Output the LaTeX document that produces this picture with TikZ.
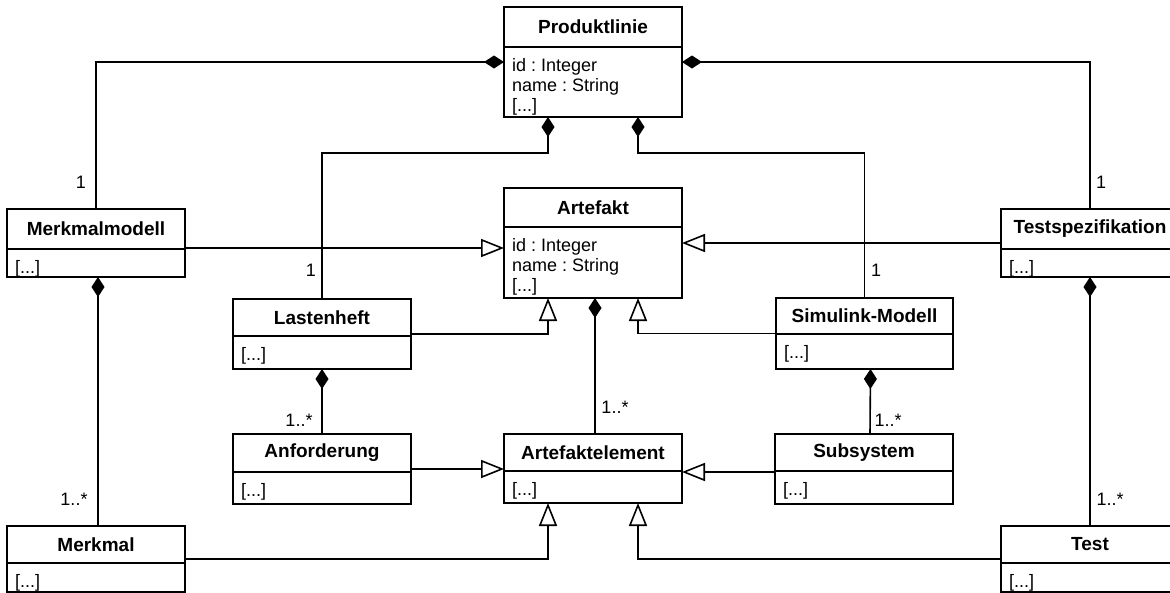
\documentclass[tikz,border=0pt]{standalone}
\usepackage{fontspec}
\setmainfont{Liberation Sans}
\frenchspacing
\usetikzlibrary{arrows.meta,calc}
\tikzset{
  ln/.style={line width=1.6pt, draw=black},
  cls/.style={draw=black, line width=1.6pt, fill=white, rectangle, inner sep=0pt, outer sep=0pt},
  ttl/.style={inner sep=0pt, font=\bfseries\fontsize{19}{21}\selectfont},
  att/.style={inner sep=0pt, anchor=north west, align=left, font=\fontsize{18}{20}\selectfont},
  lbl/.style={inner sep=0pt, font=\fontsize{18}{20}\selectfont},
  comp/.style={ln, -{Diamond[length=20pt,width=13pt]}},
  gen/.style={ln, -{Triangle[open,length=23pt,width=18pt,fill=white]}},
}
\newcommand{\umlclass}[8]{%
  \node[cls, minimum width={#4-#2}, minimum height={#5-#3}] (#1) at ({(#2+#4)/2},{(#3+#5)/2}) {};
  \draw[ln] (#1.west |- 0,#6) -- (#1.east |- 0,#6);
  \node[ttl] (#1-t) at ({(#2+#4)/2},{(#3+#6)/2}) {#7};
  \node[att] (#1-a) at ({#2+8},{#6+11}) {#8};
}
\begin{document}
\begin{tikzpicture}[x=1pt,y=-1pt]
\fill[white] (0,0) rectangle (1170,592);
\useasboundingbox (0,0) rectangle (1170,592);

\umlclass{prod}{504}{7}{682}{117}{47}{Produktlinie}{id : Integer\\name : String\\{}[...]}
\umlclass{art}{504}{188}{682}{298}{227}{Artefakt}{id : Integer\\name : String\\{}[...]}
\umlclass{mm}{7}{209}{185}{277}{249}{Merkmalmodell}{[...]}
\umlclass{ts}{1001}{209}{1179}{277}{249}{Testspezifikation}{[...]}
\umlclass{last}{233}{299}{411}{369}{336}{Lastenheft}{[...]}
\umlclass{sim}{776}{298}{953}{369}{334}{Simulink-Modell}{[...]}
\umlclass{anf}{233}{434}{411}{504}{472}{Anforderung}{[...]}
\umlclass{ae}{504}{434}{682}{503}{471}{Artefaktelement}{[...]}
\umlclass{sub}{775}{434}{953}{504}{471}{Subsystem}{[...]}
\umlclass{mk}{7}{526}{185}{592}{563}{Merkmal}{[...]}
\umlclass{test}{1001}{526}{1179}{592}{563}{Test}{[...]}

% compositions to Produktlinie
\draw[comp] (mm.north) |- (prod.west);
\draw[comp] (ts.north) |- (prod.east);
\coordinate (jl) at (548,153);
\coordinate (jr) at (638,153);
\draw[comp] (last.north) |- (jl) -- (jl |- prod.south);
\draw[comp] (sim.north) |- (jr) -- (jr |- prod.south);

% generalizations to Artefakt
\draw[gen] (mm.east |- 0,248) -- (art.west |- 0,248);
\draw[gen] (ts.west |- art.east) -- (art.east);
\draw[gen] (last.east) -| (jl |- art.south);
\draw[gen] (sim.west) -| (jr |- art.south);

% compositions lower
\draw[comp] ([xshift=2]ae.north) -- ([xshift=2]art.south);
\draw[comp] (anf.north) -- (last.south);
\draw[comp] ([xshift=6]sub.north) -- ([xshift=6]sim.south);
\draw[comp] ([xshift=2]mk.north) -- ([xshift=2]mm.south);
\draw[comp] (test.north) -- (ts.south);

% generalizations to Artefaktelement
\draw[gen] (anf.east) -- (anf.east -| ae.west);
\draw[gen] (sub.west |- 0,472) -- (ae.east |- 0,472);
\draw[gen] (mk.east) -| (jl |- ae.south);
\draw[gen] (test.west) -| (jr |- ae.south);

% multiplicities
\node[lbl] (m1) at (81,182) {1};
\node[lbl] (m2) at (1101,182) {1};
\node[lbl] (m3) at (311,270) {1};
\node[lbl] (m4) at (876,270) {1};
\node[lbl] (m5) at (615,407) {1..*};
\node[lbl] (m6) at (299,420) {1..*};
\node[lbl] (m7) at (888,420) {1..*};
\node[lbl] (m8) at (74,499) {1..*};
\node[lbl] (m9) at (1110,499) {1..*};
\end{tikzpicture}
\end{document}
